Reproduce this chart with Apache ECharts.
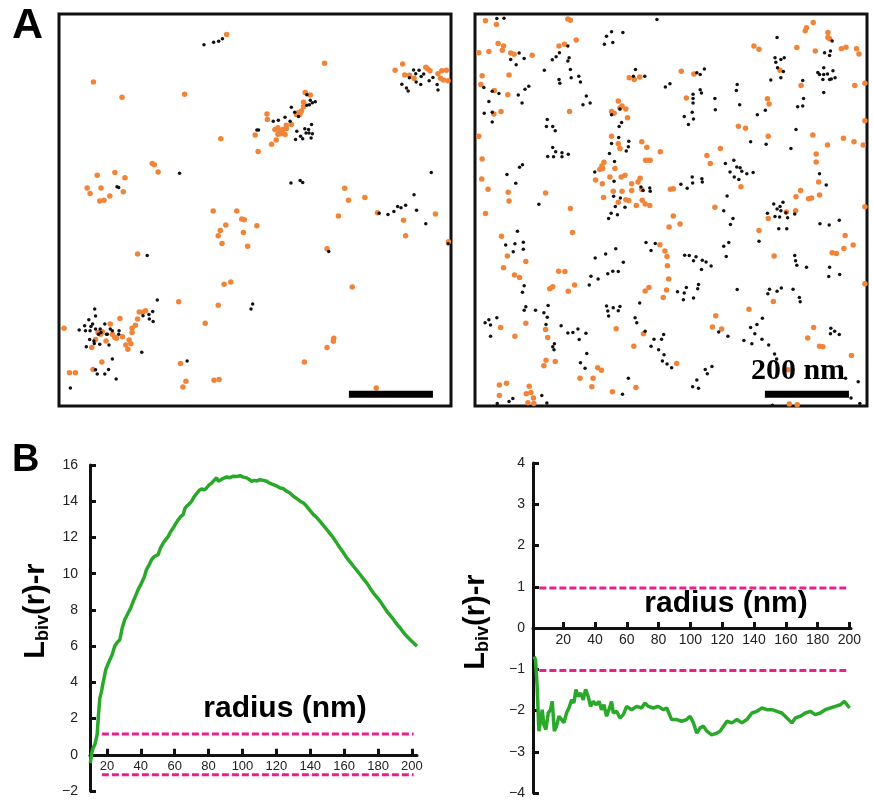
<!DOCTYPE html>
<html>
<head>
<meta charset="utf-8">
<script src="https://cdn.jsdelivr.net/npm/echarts@6/dist/echarts.min.js"></script>
<style>
  html, body { margin: 0; padding: 0; background: #fff; }
  #main { width: 873px; height: 800px; }
</style>
</head>
<body>
<div id="main"></div>
<script>
// field of view (nm), both images
var fieldNm = 933;
var scaleBarX = [690, 890];
var scaleBarY = 905;

// panel A, left image: localisations (nm, from top-left)
var leftOrange = [
  [399,49],[82,162],[150,198],[299,191],[385,297],[467,288],[222,356],[227,359],[236,376],[133,377],[91,384],[157,390],[67,414],[100,414],[74,427],[121,433],[153,423],[97,445],[107,443],[367,469],[423,469],
  [632,117],[818,119],[800,134],[823,145],[834,146],[845,153],[873,127],[878,131],[883,135],[902,142],[911,135],[922,134],[908,153],[915,157],[926,159],[586,187],[598,193],[582,210],[582,221],[577,231],[569,235],[573,239],[565,239],[495,238],[496,251],[553,263],[541,265],[541,273],[533,275],[521,271],[514,275],[526,279],[521,286],[528,285],[538,287],[517,300],[506,310],[474,327],[680,415],[689,443],[728,437],
  [435,488],[441,490],[397,502],[384,515],[379,528],[388,546],[439,520],[449,553],[187,571],[393,643],[409,638],[285,685],[379,693],[348,736],[12,748],[145,725],[191,709],[199,710],[206,706],[187,726],[182,741],[174,748],[174,758],[151,768],[167,776],[159,788],[171,785],[164,798],[122,738],[97,758],[93,758],[103,756],[99,762],[127,762],[133,770],[137,772],[87,775],[112,778],[78,794],[102,828],[81,846],[25,854],[39,854],[289,832],[302,874],[295,888],[369,872],[381,870],
  [471,504],[665,481],[758,473],[820,491],[896,476],[825,528],[927,542],[638,559],[698,650],[654,772],[653,779],[638,794],[584,828],[755,890]
];
var leftBlack = [
  [345,73],[368,67],[380,65],[389,59],[287,379],[138,411],[142,413],[471,276],
  [844,133],[857,134],[849,142],[868,143],[862,149],[834,152],[850,162],[861,168],[881,159],[890,151],[900,168],[902,181],[831,183],[827,176],[816,167],[590,192],[598,205],[590,217],[603,211],[610,209],[596,216],[553,222],[561,234],[570,244],[550,255],[538,246],[510,255],[522,253],[566,279],[585,273],[594,275],[601,263],[588,283],[595,283],[575,291],[580,297],[563,299],[600,295],[603,285],[475,276],[552,402],[574,396],[580,401],[886,377],[845,430],[825,455],[814,461],[806,458],[851,467],
  [210,575],[234,681],[461,690],[457,702],[85,702],[87,719],[71,728],[80,738],[76,744],[61,742],[48,752],[63,754],[74,754],[87,750],[98,750],[109,738],[100,758],[94,762],[113,762],[122,750],[127,754],[143,754],[142,762],[115,762],[73,775],[83,778],[97,786],[65,792],[84,784],[119,788],[200,718],[214,715],[215,726],[223,708],[224,732],[197,805],[127,821],[118,846],[91,857],[87,847],[109,857],[136,869],[27,890],[305,826],
  [762,474],[783,477],[797,470],[873,499],[642,565],[926,547]
];

// panel A, right image
var rightOrange = [
  [25,16],[51,25],[221,12],[227,15],[241,62],[200,76],[213,72],[9,92],[33,89],[68,76],[55,70],[65,86],[85,93],[93,96],[136,98],[17,147],[81,145],[14,168],[78,192],[46,182],[62,232],[45,238],[225,232],[9,291],[17,345],[16,393],[31,417],[79,424],[81,445],[168,426],[227,463],[25,475],[367,152],[379,156],[392,150],[341,207],[350,219],[345,224],[359,226],[325,232],[331,236],[363,247],[325,291],[341,309],[345,320],[397,304],[409,317],[441,328],[406,348],[412,348],[417,348],[307,353],[302,362],[297,370],[304,368],[333,368],[287,395],[303,404],[321,388],[348,388],[357,384],[393,391],[388,400],[373,404],[397,418],[373,420],[329,422],[350,422],[306,437],[341,448],[359,442],[366,444],[384,456],[398,443],[405,452],[416,456],[465,417],[472,416],
  [805,20],[789,33],[786,40],[840,44],[840,56],[844,59],[664,76],[676,84],[766,80],[810,88],[872,83],[883,79],[908,83],[914,95],[491,136],[521,143],[503,200],[696,202],[700,214],[776,170],[904,170],[928,165],[928,254],[627,267],[644,272],[698,291],[804,288],[839,312],[877,296],[902,304],[924,312],[584,320],[552,337],[560,356],[812,333],[812,352],[818,400],[633,411],[775,420],[764,435],[794,440],[801,438],[820,431],[571,460],[741,471],[763,468],[928,459],[726,134],
  [63,529],[77,576],[121,589],[68,604],[94,621],[106,627],[232,520],[199,612],[214,613],[178,654],[185,649],[222,660],[237,645],[462,507],[440,549],[452,564],[457,577],[458,599],[461,631],[456,657],[448,675],[414,651],[405,659],[61,746],[95,767],[121,736],[168,751],[173,770],[169,824],[164,837],[191,827],[336,749],[401,761],[378,791],[292,842],[301,848],[250,867],[281,867],[278,887],[383,889],[327,899],[58,883],[75,879],[58,908],[129,886],[122,904],[133,901],[139,914],[126,925],[140,927],
  [472,481],[488,500],[698,487],[676,515],[712,576],[881,527],[900,550],[878,558],[850,568],[860,570],[928,642],[710,684],[652,703],[573,718],[565,745],[587,750],[806,746],[792,771],[820,791],[828,792],[896,813],[480,832],[745,847],[748,928],[767,930]
];
var rightBlack = [
  [52,11],[69,10],[433,13],[325,42],[352,44],[313,53],[328,68],[308,72],[221,76],[105,93],[85,108],[117,106],[98,121],[201,92],[193,102],[184,109],[224,104],[221,112],[227,132],[165,134],[200,156],[202,165],[229,152],[247,148],[251,162],[382,132],[377,148],[404,148],[453,174],[464,166],[21,175],[41,184],[57,189],[33,208],[128,172],[119,179],[103,193],[112,212],[265,195],[257,216],[274,212],[22,236],[41,234],[41,257],[172,251],[170,268],[185,268],[191,278],[325,240],[345,226],[349,258],[343,268],[342,294],[325,308],[366,303],[365,316],[360,326],[320,332],[332,351],[185,318],[192,328],[207,330],[207,340],[222,334],[187,340],[173,339],[113,359],[106,365],[76,382],[97,403],[285,376],[331,398],[330,434],[346,438],[395,412],[400,420],[416,414],[417,422],[334,458],[357,460],[324,474],[152,453],
  [719,56],[714,104],[728,108],[736,104],[716,115],[720,128],[734,137],[728,152],[704,157],[832,92],[846,88],[844,99],[850,64],[830,128],[816,139],[820,144],[830,144],[839,143],[852,135],[844,156],[848,155],[857,152],[828,156],[830,187],[780,158],[782,201],[780,219],[768,221],[546,131],[536,144],[528,140],[536,180],[539,188],[519,191],[519,201],[519,212],[571,201],[572,228],[517,234],[520,250],[498,244],[508,263],[624,168],[622,182],[630,216],[672,240],[691,229],[764,275],[656,304],[693,310],[752,320],[616,348],[596,356],[623,364],[631,366],[635,374],[607,376],[617,388],[628,394],[647,380],[662,377],[517,388],[540,392],[541,400],[518,402],[505,415],[490,405],[600,433],[592,468],[711,452],[719,464],[726,458],[733,448],[728,468],[696,474],[761,476],[820,380],[836,407],
  [318,487],[339,478],[101,517],[73,550],[95,547],[115,543],[115,560],[91,566],[117,647],[113,662],[286,581],[311,571],[335,559],[353,591],[276,624],[293,631],[272,645],[316,618],[328,612],[341,613],[407,544],[429,546],[419,563],[121,697],[117,705],[144,705],[164,711],[174,694],[172,722],[169,739],[205,742],[221,759],[233,758],[245,750],[264,760],[248,775],[185,792],[189,785],[188,799],[313,695],[316,707],[329,699],[345,696],[341,706],[318,719],[381,723],[385,735],[405,755],[392,688],[24,735],[33,728],[52,723],[37,740],[37,767],[426,774],[444,774],[449,763],[419,791],[437,799],[450,811],[446,826],[457,833],[468,842],[266,808],[251,830],[262,843],[365,867],[351,905],[159,908],[171,926],[90,915],[81,922],[53,927],
  [614,487],[608,501],[714,482],[725,483],[744,485],[740,473],[723,511],[742,511],[821,499],[843,502],[867,491],[676,541],[604,544],[592,553],[598,577],[499,574],[510,575],[526,578],[541,586],[550,590],[520,587],[539,608],[562,600],[761,575],[763,587],[766,598],[789,603],[844,603],[842,625],[868,620],[532,644],[530,654],[503,651],[498,664],[482,661],[496,680],[520,676],[624,656],[701,655],[697,666],[719,660],[729,652],[757,655],[772,675],[774,685],[684,724],[671,739],[656,746],[666,761],[580,757],[602,767],[640,777],[659,785],[683,774],[699,788],[713,809],[718,821],[847,748],[856,755],[867,763],[846,761],[564,839],[548,846],[553,856],[528,871],[518,887],[532,891],[882,867],[912,875],[895,914],[916,927],[708,931]
];

// panel B, left: Lbiv(r)-r
var radiusLeft = [10.2,11,11.8,12.8,13.5,14.2,15,15.8,16.8,17.7,19.3,21.7,23,24.6,26,27.6,29,30.5,32.5,34,35.5,37,38.4,40.4,42,43.3,45,46.3,48,50.2,51.5,53.2,54.5,56.2,57.5,59.1,60.5,62.1,63.5,65,66,67,68.5,70,71.5,72.9,74.5,75.9,77.5,78.8,80.3,81.8,83.2,84.7,85.8,86.7,88.5,90.6,92.5,94.6,96.5,98.5,100.5,102.5,104,105.4,107,108.5,110.3,112.3,114.3,116,118.2,120,122.2,124,126.1,128,130,132,134,136,137.9,139.8,141.9,143.8,145.8,147.8,149.8,151.8,153.7,155.6,157.6,159.6,161.6,163.5,165.5,167.5,169.5,171.5,173.4,175.3,177.3,179.3,181.3,183.2,185.2,187.2,189.2,191.2,193.1,195,197,199,201,203];
var lbivLeft = [-0.46,0.1,0.37,0.55,0.5,1.1,2.2,3.13,3.5,3.96,4.7,5.25,5.5,6.0,6.2,6.35,7.0,7.46,7.83,8.1,8.47,8.8,9.12,9.48,9.8,10.22,10.5,10.77,10.95,11.05,11.4,11.69,11.85,12.06,12.3,12.52,12.75,12.98,13.15,13.26,13.6,13.72,13.85,14.0,14.25,14.42,14.6,14.68,14.62,14.73,14.9,15.0,15.15,15.29,15.1,15.14,15.25,15.34,15.3,15.38,15.36,15.41,15.33,15.29,15.2,15.1,15.15,15.12,15.19,15.15,15.1,15.0,14.92,14.85,14.73,14.7,14.55,14.45,14.27,14.15,14.0,13.9,13.72,13.5,13.26,13.1,12.89,12.65,12.43,12.2,11.97,11.7,11.42,11.15,10.87,10.65,10.41,10.18,9.94,9.7,9.48,9.2,8.93,8.7,8.47,8.2,7.92,7.7,7.46,7.2,7.0,6.75,6.54,6.35,6.17,5.99];
var envLeftX = [17, 201];
var envLeft = [1.15, -1.1];

// panel B, right
var radiusRight = [1.7,2.6,3.6,4.7,5.7,6.8,7.8,9.1,10.6,12,13.1,14.4,15.8,17.3,19,20.4,22.1,23.6,25.3,26.7,28,29.4,31,32.6,34.1,35.7,37.2,38.9,40.6,42.6,44.1,45.6,47.3,48.8,50.4,51.5,53.6,55.7,57.8,59.9,63,66.2,69.3,71.4,73.5,76.7,79.8,83,85.1,88.2,91.4,94.5,97.6,99.8,101.9,104,106.1,108.2,110.3,113.4,116.6,118.7,120.8,123,126.1,129.3,132.4,135.5,138.7,141.8,145,148.1,151.3,154.4,157.5,160.7,163.8,166,169.1,172.3,175.4,178.5,181.7,184.8,188,191.1,194.3,196.8,198.5,200.1];
var lbivRight = [-0.69,-0.77,-1.41,-2.5,-2.26,-1.98,-2.34,-2.46,-2.06,-1.98,-1.78,-2.5,-2.38,-2.14,-2.22,-2.3,-2.06,-1.94,-1.74,-1.82,-1.49,-1.66,-1.58,-1.74,-1.49,-1.66,-1.9,-1.78,-1.86,-1.78,-1.98,-1.86,-2.14,-1.98,-1.78,-2.06,-2.02,-2.18,-2.1,-1.9,-1.98,-1.9,-1.94,-1.82,-1.9,-1.94,-1.9,-1.98,-1.94,-2.22,-2.22,-2.26,-2.22,-2.14,-2.3,-2.55,-2.42,-2.38,-2.5,-2.59,-2.55,-2.5,-2.38,-2.26,-2.3,-2.22,-2.3,-2.22,-2.06,-2.02,-1.94,-1.98,-1.98,-2.02,-2.06,-2.18,-2.3,-2.18,-2.14,-2.06,-2.02,-2.1,-2.06,-1.98,-1.94,-1.9,-1.86,-1.78,-1.86,-1.94];
var envRightX = [5, 198];
var envRight = [0.97, -1.03];

var xTicks = [20, 40, 60, 80, 100, 120, 140, 160, 180, 200];

function pairs(xs, ys) {
  var out = [];
  for (var i = 0; i < xs.length; ++i) out.push([xs[i], ys[i]]);
  return out;
}
function minusSign(v) { return v < 0 ? '\u2212' + (-v) : String(v); }

var ink = '#111';
var orange = '#f0853a';
var green = '#2aa82a';
var pink = '#e8208c';

function fieldAxes(i) {
  return {
    x: { gridIndex: i, type: 'value', min: 0, max: fieldNm, show: false },
    y: { gridIndex: i, type: 'value', min: 0, max: fieldNm, inverse: true, show: false }
  };
}
// x axis sits on y = 0: shift it up from the grid bottom by the zero's distance
function plotX(i, min, max, size, ymin, ymax, height) {
  return {
    gridIndex: i, type: 'value', min: min, max: max, position: 'bottom',
    offset: -height * (0 - ymin) / (ymax - ymin),
    axisLine: { onZero: false, lineStyle: { color: ink, width: 3 } },
    axisTick: { show: true, inside: true, length: 6, customValues: xTicks, lineStyle: { color: ink, width: 3 } },
    axisLabel: { customValues: xTicks, fontSize: size, color: '#222', margin: 5 },
    splitLine: { show: false }
  };
}
function plotY(i, min, max, step, margin) {
  return {
    gridIndex: i, type: 'value', min: min, max: max, interval: step,
    axisLine: { show: true, onZero: false, lineStyle: { color: ink, width: 3 } },
    axisTick: { show: true, inside: true, length: 6, lineStyle: { color: ink, width: 3 } },
    axisLabel: { fontSize: 14, color: '#222', margin: margin, formatter: minusSign },
    splitLine: { show: false }
  };
}
function dots(i, data, color, size) {
  return { type: 'scatter', xAxisIndex: i, yAxisIndex: i, data: data, symbolSize: size,
    itemStyle: { color: color, opacity: 1 }, silent: true };
}
function bar(i) {
  return { type: 'line', xAxisIndex: i, yAxisIndex: i, symbol: 'none', silent: true,
    data: [[scaleBarX[0], scaleBarY], [scaleBarX[1], scaleBarY]],
    lineStyle: { color: '#000', width: 7, cap: 'butt' } };
}
function env(i, xs, y) {
  return { type: 'line', xAxisIndex: i, yAxisIndex: i, symbol: 'none', silent: true,
    data: [[xs[0], y], [xs[1], y]],
    lineStyle: { color: pink, width: 3, type: [7, 3] } };
}
function curve(i, xs, ys) {
  return { type: 'line', xAxisIndex: i, yAxisIndex: i, symbol: 'none', silent: true,
    data: pairs(xs, ys), lineStyle: { color: green, width: 3.5 } };
}

var a0 = fieldAxes(0), a1 = fieldAxes(1);
var yTitle = '{m|L}{s|biv}{m|(r)-r}';
var yTitleRich = {
  m: { fontSize: 29, fontWeight: 'bold', fontFamily: 'Liberation Sans', fill: '#000', lineHeight: 32 },
  s: { fontSize: 18, fontWeight: 'bold', fontFamily: 'Liberation Sans', fill: '#000', lineHeight: 18, padding: [14, 0, 0, 0], verticalAlign: 'bottom' }
};

var myChart = echarts.init(document.getElementById('main'));
var option = {
  animation: false,
  backgroundColor: '#fff',
  textStyle: { fontFamily: 'Liberation Sans' },
  grid: [
    { left: 59, top: 14, width: 392, height: 392, show: true, borderColor: '#111', borderWidth: 3 },
    { left: 475, top: 14, width: 392, height: 392, show: true, borderColor: '#111', borderWidth: 3 },
    { left: 90, top: 465, width: 327, height: 326 },
    { left: 533, top: 463, width: 318, height: 330 }
  ],
  xAxis: [a0.x, a1.x, plotX(2, 10, 203, 13, -2, 16, 326), plotX(3, 1, 201, 14, -4, 4, 330)],
  yAxis: [a0.y, a1.y, plotY(2, -2, 16, 2, 12), plotY(3, -4, 4, 1, 8)],
  series: [
    dots(0, leftOrange, orange, 5.5),
    dots(0, leftBlack, ink, 3.5),
    bar(0),
    dots(1, rightOrange, orange, 5.5),
    dots(1, rightBlack, ink, 3.5),
    bar(1),
    env(2, envLeftX, envLeft[0]),
    env(2, envLeftX, envLeft[1]),
    curve(2, radiusLeft, lbivLeft),
    env(3, envRightX, envRight[0]),
    env(3, envRightX, envRight[1]),
    curve(3, radiusRight, lbivRight)
  ],
  graphic: [
    { type: 'text', x: 12, y: 26, style: { text: 'A', fontSize: 43, fontWeight: 'bold', fontFamily: 'Liberation Sans', fill: '#000', verticalAlign: 'middle' } },
    { type: 'text', x: 12, y: 461, style: { text: 'B', fontSize: 38, fontWeight: 'bold', fontFamily: 'Liberation Sans', fill: '#000', verticalAlign: 'middle' } },
    { type: 'text', x: 798, y: 371, z: 10, style: { text: '200 nm', fontSize: 30, fontWeight: 'bold', fontFamily: 'Liberation Serif', fill: '#000', align: 'center', verticalAlign: 'middle' } },
    { type: 'text', x: 285, y: 709, style: { text: 'radius (nm)', fontSize: 30, fontWeight: 'bold', fontFamily: 'Liberation Sans', fill: '#000', align: 'center', verticalAlign: 'middle' } },
    { type: 'text', x: 726, y: 604, style: { text: 'radius (nm)', fontSize: 30, fontWeight: 'bold', fontFamily: 'Liberation Sans', fill: '#000', align: 'center', verticalAlign: 'middle' } },
    { type: 'text', x: 36, y: 611, rotation: Math.PI / 2, style: { text: yTitle, rich: yTitleRich, align: 'center', verticalAlign: 'middle' } },
    { type: 'text', x: 476, y: 622, rotation: Math.PI / 2, style: { text: yTitle, rich: yTitleRich, align: 'center', verticalAlign: 'middle' } }
  ]
};
myChart.setOption(option);
</script>
</body>
</html>
